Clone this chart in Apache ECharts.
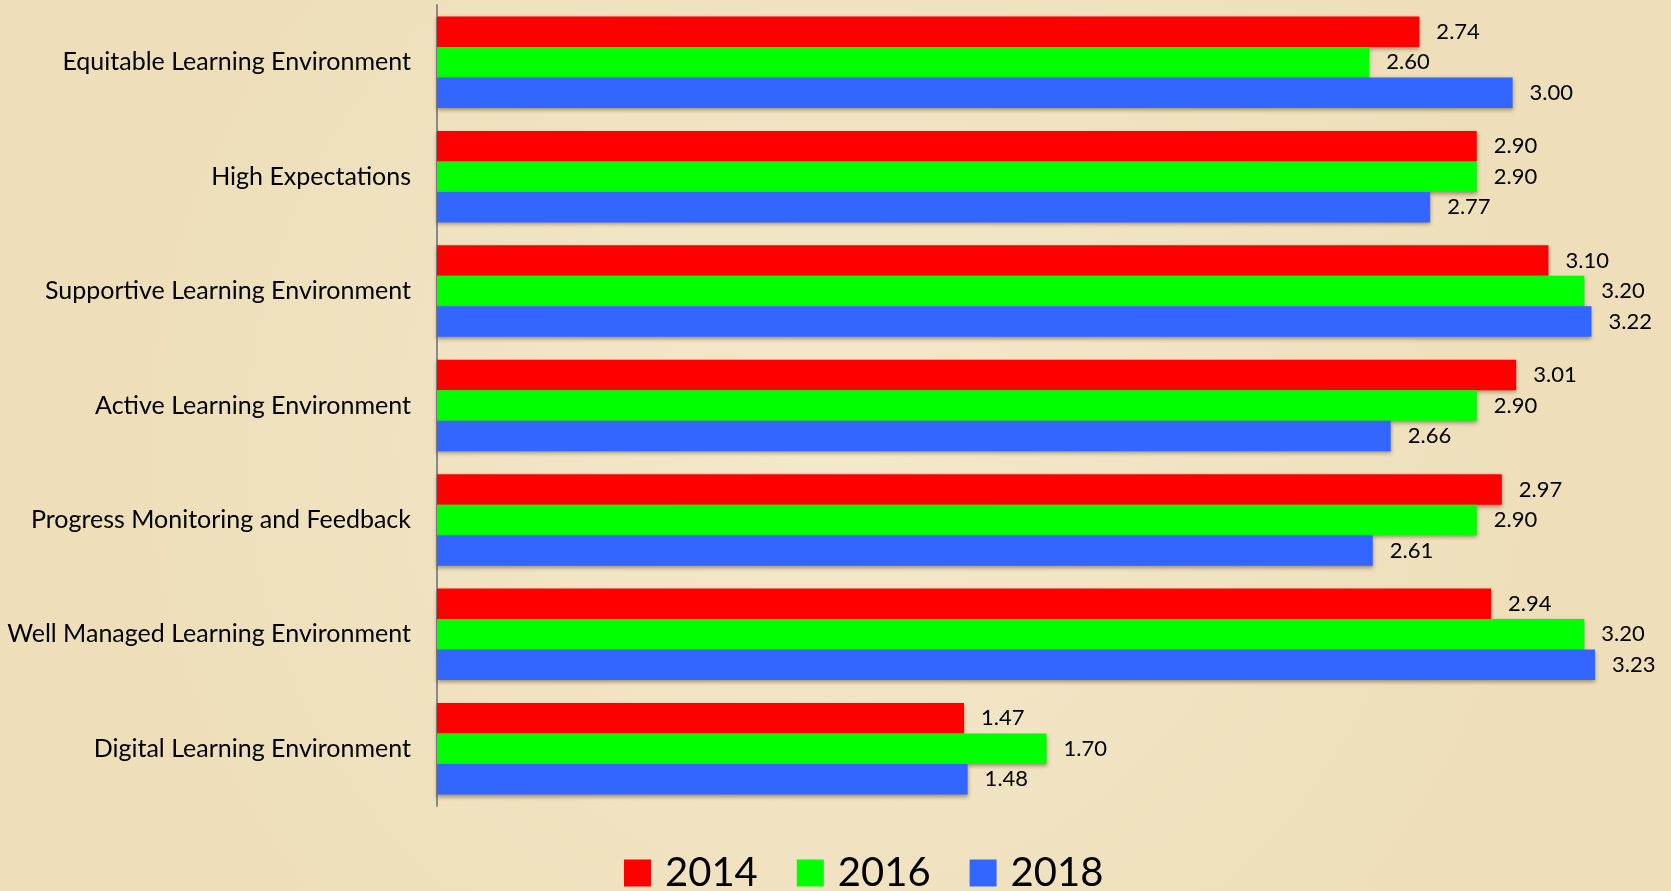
<!DOCTYPE html>
<html>
<head>
<meta charset="utf-8">
<script src="https://cdn.jsdelivr.net/npm/echarts@6/dist/echarts.min.js"></script>
<style>
  html, body { margin: 0; padding: 0; }
  #chart { width: 1671px; height: 891px; }
</style>
</head>
<body>
<div id="chart"></div>
<script>
var categories = [
  'Equitable Learning Environment',
  'High Expectations',
  'Supportive Learning Environment',
  'Active Learning Environment',
  'Progress Monitoring and Feedback',
  'Well Managed Learning Environment',
  'Digital Learning Environment'
]
var years = ['2014', '2016', '2018']
var values2014 = [2.74, 2.90, 3.10, 3.01, 2.97, 2.94, 1.47]
var values2016 = [2.60, 2.90, 3.20, 2.90, 2.90, 3.20, 1.70]
var values2018 = [3.00, 2.77, 3.22, 2.66, 2.61, 3.23, 1.48]
var colors = ['#ff0000', '#00ff00', '#3366ff']

var myChart = echarts.init(document.getElementById('chart'))

function makeSeries (name, data, color) {
  return {
    name: name,
    type: 'bar',
    data: data,
    barWidth: 30.5,
    barGap: '0%',
    itemStyle: {
      color: color,
      shadowColor: 'rgba(60, 40, 10, 0.45)',
      shadowBlur: 4,
      shadowOffsetY: 2
    },
    label: {
      show: true,
      position: 'right',
      distance: 17,
      color: '#000',
      fontFamily: 'Lato',
      fontSize: 22,
      formatter: function (p) { return p.value.toFixed(2) }
    }
  }
}

var option = {
  backgroundColor: {
    type: 'radial',
    x: 0.5, y: 0.5, r: 0.8,
    colorStops: [
      { offset: 0, color: '#f4e8cb' },
      { offset: 1, color: '#eedfba' }
    ]
  },
  animation: false,
  grid: {
    left: 437,
    right: 15,
    top: 5,
    bottom: 85
  },
  legend: {
    data: years,
    left: 624,
    top: 853,
    padding: 0,
    icon: 'rect',
    itemWidth: 27,
    itemHeight: 27,
    itemGap: 39,
    textStyle: {
      fontFamily: 'Lato',
      fontSize: 40,
      color: '#000',
      padding: [0, 0, 0, 9]
    }
  },
  xAxis: {
    type: 'value',
    min: 0,
    max: 3.4,
    show: false
  },
  yAxis: {
    type: 'category',
    inverse: true,
    data: categories,
    axisLine: { show: true, lineStyle: { color: '#8a8a8a', width: 2 } },
    axisTick: { show: false },
    splitLine: { show: false },
    axisLabel: {
      margin: 26,
      color: '#000',
      fontFamily: 'Lato',
      fontSize: 25
    }
  },
  series: [
    makeSeries(years[0], values2014, colors[0]),
    makeSeries(years[1], values2016, colors[1]),
    makeSeries(years[2], values2018, colors[2])
  ]
}
myChart.setOption(option)
</script>
</body>
</html>
